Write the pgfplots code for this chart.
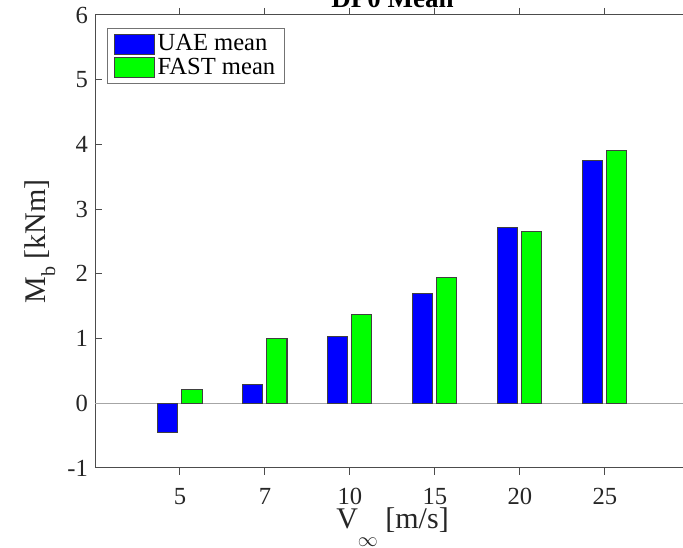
\documentclass[border=0pt]{standalone}
\usepackage{fontspec}
\setmainfont{Liberation Serif}
\usepackage{pgfplots}
\pgfplotsset{compat=1.18}
\definecolor{uaeblue}{RGB}{0,0,255}
\definecolor{fastgreen}{RGB}{0,255,0}
\begin{document}
\begin{tikzpicture}
\begin{axis}[
  name=ax,
  scale only axis,
  width=297.5pt, height=226.5pt,
  xmin=0, xmax=7, ymin=-1, ymax=6,
  xtick={1,2,3,4,5,6},
  xticklabels={5,7,10,15,20,25},
  ytick={-1,0,1,2,3,4,5,6},
  yticklabels={-1,0,1,2,3,4,5,6},
  tick align=inside,
  major tick length=3.5pt,
  axis line style={black!70, line width=0.5pt},
  every tick/.style={black!70, line width=0.5pt},
  /pgf/number format/assume math mode=true,
  ticklabel style={font=\fontsize{12.3}{14}\selectfont, text=black!85},
  xticklabel style={yshift=-3pt},
  ybar, bar width=10pt,
  legend image code/.code={\draw[#1] (0pt,-5pt) rectangle (20pt,5pt);},
  legend style={at={(0,1)}, anchor=north west, xshift=6pt, yshift=-6.5pt,
    draw=black!55, line width=0.5pt, font=\fontsize{12.3}{14}\selectfont,
    inner xsep=3pt, inner ysep=1.5pt, row sep=-1pt,
    nodes={inner xsep=1.5pt, inner ysep=1.5pt}},
  legend cell align=left,
  xlabel={V\raisebox{-9pt}{\fontsize{10}{10}\selectfont$\infty$}\ [m/s]},
  xlabel style={at={([yshift=-30.5pt]axis description cs:0.5,0)}, anchor=base,
    font=\fontsize{15}{17}\selectfont, text=black!85},
  ylabel={M\raisebox{-5pt}{\fontsize{10}{10}\selectfont b} [kNm]},
  ylabel style={at={([xshift=-25pt]axis description cs:0,0.5)}, anchor=base,
    font=\fontsize{15}{17}\selectfont, text=black!85},
]
\draw[black!35, line width=0.75pt] (axis cs:0,0) -- (axis cs:7,0);
\addplot[bar shift=-6pt, fill=uaeblue, draw=black!75, line width=0.5pt]
  coordinates {(1,-0.45) (2,0.29) (3,1.03) (4,1.69) (5,2.72) (6,3.75)};
\addplot[bar shift=6pt, fill=fastgreen, draw=black!75, line width=0.5pt]
  coordinates {(1,0.22) (2,1.00) (3,1.37) (4,1.94) (5,2.66) (6,3.90)};
\legend{UAE mean, FAST mean}
\end{axis}
\node[anchor=base, font=\fontsize{13.5}{15}\selectfont\bfseries, inner sep=0pt]
  at ([yshift=3.5pt]ax.north) {DP0 Mean};
\pgfresetboundingbox
\path[use as bounding box] ([shift={(-47.5pt,-40pt)}]ax.south west) rectangle ([shift={(294pt,7.5pt)}]ax.north west);
\end{tikzpicture}
\end{document}
